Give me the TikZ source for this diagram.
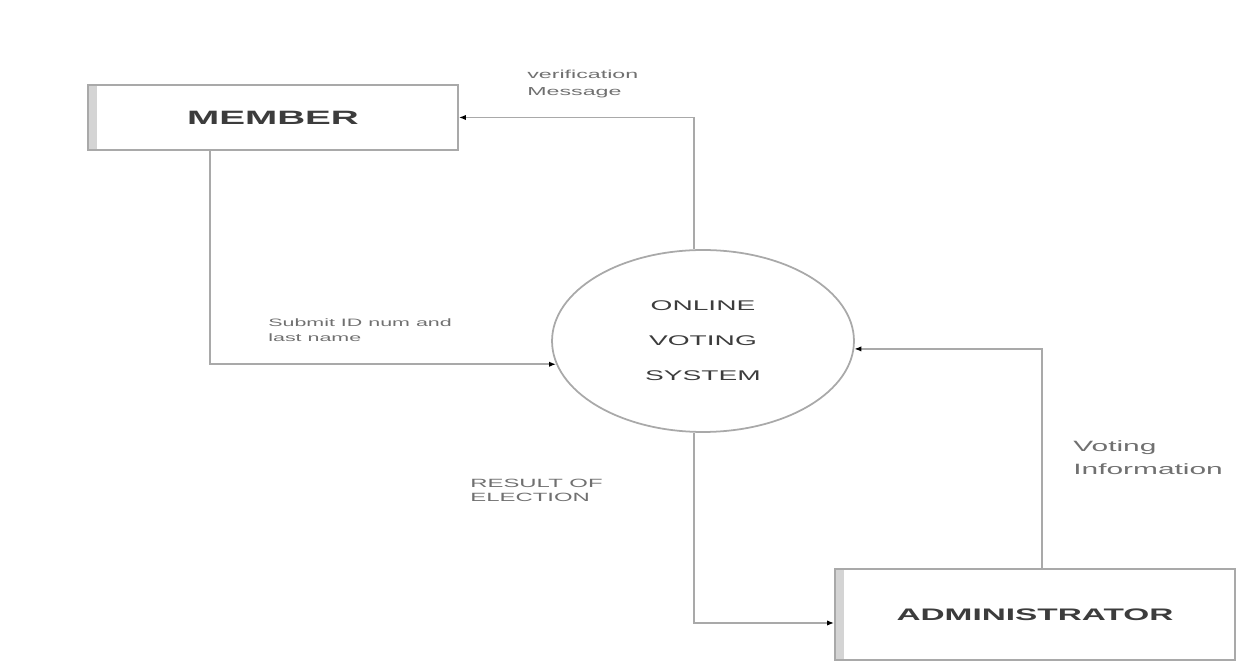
\documentclass[tikz,border=0pt]{standalone}
\usepackage{fontspec}
\usetikzlibrary{shapes.geometric,arrows.meta}
\newfontfamily\dfdfont[FakeStretch=2]{Liberation Sans}
\definecolor{linegray}{HTML}{A9A9A9}
\definecolor{bargray}{HTML}{D4D4D4}
\definecolor{textgray}{HTML}{3C3C3C}
\definecolor{labelgray}{HTML}{707070}

\begin{document}
\begin{tikzpicture}[x=0.02cm, y=-0.02cm,
    entity/.style={draw=linegray, line width=1pt, rectangle, text=textgray,
        path picture={\fill[bargray] (path picture bounding box.north west) rectangle ([xshift=0.18cm]path picture bounding box.south west);}},
    process/.style={draw=linegray, line width=1pt, ellipse, inner sep=0pt, minimum width=6.04cm, minimum height=3.64cm,
        align=center, text=textgray, font=\dfdfont\fontsize{8}{19.9}\selectfont},
    flow/.style={draw=linegray, line width=1pt, -{Latex[length=4pt,width=3pt,color=black]}},
    flowlabel/.style={anchor=west, align=left, inner sep=0pt, text=labelgray}]
            \useasboundingbox (0,0) rectangle (1244,661);

            \node[entity, minimum width=7.4cm, minimum height=1.3cm, font=\dfdfont\bfseries\fontsize{11}{13}\selectfont] (member) at (273,117.5) {MEMBER};
            \node[entity, minimum width=8cm, minimum height=1.82cm, font=\dfdfont\bfseries\fontsize{9.5}{12}\selectfont] (admin) at (1035,614.5) {ADMINISTRATOR};
            \node[process] (system) at (703,341) {ONLINE\\VOTING\\SYSTEM};

            \node[flowlabel, font=\dfdfont\fontsize{6.6}{9.7}\selectfont] (verify) at (527,84) {verification\\Message};
            \node[flowlabel, font=\dfdfont\fontsize{6.1}{8.5}\selectfont] (submit) at (268,330) {Submit ID num and\\last name};
            \node[flowlabel, font=\dfdfont\fontsize{6.8}{8}\selectfont] (result) at (470,490) {RESULT OF\\ELECTION};
            \node[flowlabel, font=\dfdfont\fontsize{8.5}{13}\selectfont] (votinginfo) at (1073,458) {Voting\\Information};

            \draw[flow] ([xshift=-1.26cm]member.south) |- (system.189);
            \draw[flow] ([xshift=-0.18cm]system.north) |- (member.east);
            \draw[flow] ([xshift=-0.18cm]system.south) |- ([yshift=-0.17cm]admin.west);
            \draw[flow] ([xshift=0.14cm]admin.north) |- (system.-3);
        \end{tikzpicture}
\end{document}
